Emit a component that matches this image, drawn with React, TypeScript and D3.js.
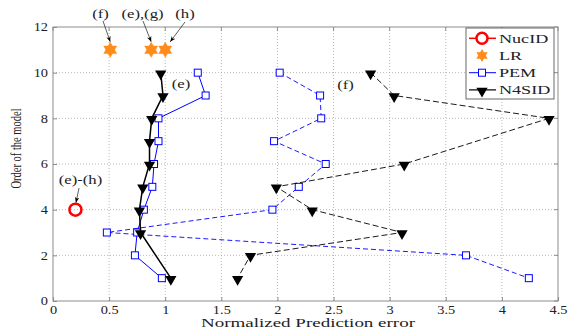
import React, { useEffect, useRef } from 'react'
import * as d3 from 'd3'

// x ticks / y ticks
const xTicks = [0, 0.5, 1, 1.5, 2, 2.5, 3, 3.5, 4, 4.5]
const yTicks = [0, 2, 4, 6, 8, 10, 12]

// NucID single point
const nucidX = [0.2]
const nucidOrder = [4]

// LR stars
const lrX = [0.51, 0.875, 1.0]
const lrOrder = [11, 11, 11]

// PEM, case (e) solid
const pemEOrder = [10, 9, 8, 7, 6, 5, 4, 3, 2, 1]
const pemEErr = [1.29, 1.36, 0.94, 0.94, 0.9, 0.885, 0.81, 0.75, 0.73, 0.97]

// N4SID, case (e) solid
const n4EOrder = [10, 9, 8, 7, 6, 5, 4, 3, 1]
const n4EErr = [0.96, 0.98, 0.88, 0.86, 0.86, 0.8, 0.77, 0.78, 1.05]

// PEM, case (f) dashed
const pemFOrder = [10, 9, 8, 7, 6, 5, 4, 3, 2, 1]
const pemFErr = [2.02, 2.38, 2.39, 1.97, 2.43, 2.19, 1.955, 0.48, 3.68, 4.24]

// N4SID, case (f) dashed
const n4FOrder = [10, 9, 8, 6, 5, 4, 3, 2, 1]
const n4FErr = [2.83, 3.04, 4.42, 3.13, 1.99, 2.31, 3.11, 1.76, 1.645]

const legendNames = ['NucID', 'LR', 'PEM', 'N4SID']

const FONT = "'Liberation Serif', 'Times New Roman', 'DejaVu Serif', serif"
const SX = 1.45 // the source picture is stretched sideways

function App() {
    const ref = useRef<SVGSVGElement>(null)

    useEffect(() => {
        const svg = d3.select(ref.current)
        svg.selectAll('*').remove()
        svg.style('font-family', FONT)

        const m = { l: 53, r: 24, t: 27, b: 31 }
        const W = 582, H = 332
        const x = d3.scaleLinear().domain([0, 4.5]).range([m.l, W - m.r])
        const y = d3.scaleLinear().domain([0, 12]).range([H - m.b, m.t])

        // stretched text helper
        const txt = (parent: any, t: string, tx: number, ty: number, size: number, sx: number, anchor = 'middle') =>
            parent.append('text').attr('transform', `translate(${tx},${ty}) scale(${sx},1)`)
                .attr('text-anchor', anchor).style('font-family', FONT).attr('font-size', size).attr('fill', '#222').text(t)

        const defs = svg.append('defs')
        defs.append('marker').attr('id', 'arr').attr('viewBox', '0 0 10 10')
            .attr('refX', 10).attr('refY', 5).attr('markerWidth', 7).attr('markerHeight', 7)
            .attr('orient', 'auto')
            .append('path').attr('d', 'M0,1 L10,5 L0,9 L3,5 Z').attr('fill', '#000')

        svg.append('rect').attr('width', W).attr('height', H).attr('fill', '#fff')

        // grid
        const grid = svg.append('g')
        grid.selectAll('.gx').data(xTicks.slice(1, -1)).join('line')
            .attr('x1', d => x(d)).attr('x2', d => x(d))
            .attr('y1', y(0)).attr('y2', y(12))
            .attr('stroke', '#9a9a9a').attr('stroke-width', 0.7).attr('stroke-dasharray', '1,2')
        grid.selectAll('.gy').data(yTicks.slice(1, -1)).join('line')
            .attr('y1', d => y(d)).attr('y2', d => y(d))
            .attr('x1', x(0)).attr('x2', x(4.5))
            .attr('stroke', '#9a9a9a').attr('stroke-width', 0.7).attr('stroke-dasharray', '1,2')

        // axes box
        svg.append('rect').attr('x', x(0)).attr('y', y(12))
            .attr('width', x(4.5) - x(0)).attr('height', y(0) - y(12))
            .attr('fill', 'none').attr('stroke', '#8c8c8c').attr('stroke-width', 1)

        const xAxis = d3.axisBottom(x).tickValues(xTicks).tickSize(-4).tickSizeOuter(0).tickFormat(d3.format('~g'))
        const yAxis = d3.axisLeft(y).tickValues(yTicks).tickSize(-4).tickSizeOuter(0)
        const gx = svg.append('g').attr('transform', `translate(0,${y(0)})`).call(xAxis)
        const gy = svg.append('g').attr('transform', `translate(${x(0)},0)`).call(yAxis)
        for (const g of [gx, gy]) {
            g.attr('font-family', null).attr('font-size', null)
            g.select('.domain').remove()
            g.selectAll('line').attr('stroke', '#8c8c8c')
            g.selectAll('text').style('font-family', FONT).attr('font-size', 11.5).attr('fill', '#222')
                .attr('transform', 'scale(1.25,1)')
        }
        gx.selectAll('text').attr('dy', null).attr('y', 13.5)
        gy.selectAll('text').attr('x', -5 / 1.25).attr('dy', '0.34em')
        // right and top ticks
        svg.append('g').selectAll('line').data(yTicks).join('line')
            .attr('x1', x(4.5)).attr('x2', x(4.5) - 4).attr('y1', d => y(d)).attr('y2', d => y(d))
            .attr('stroke', '#8c8c8c')
        svg.append('g').selectAll('line').data(xTicks).join('line')
            .attr('y1', y(12)).attr('y2', y(12) + 4).attr('x1', d => x(d)).attr('x2', d => x(d))
            .attr('stroke', '#8c8c8c')

        svg.append('text').attr('x', 308).attr('y', 327)
            .attr('text-anchor', 'middle').style('font-family', FONT).attr('font-size', 11.5).attr('fill', '#222')
            .attr('textLength', 214).attr('lengthAdjust', 'spacingAndGlyphs')
            .text('Normalized Prediction error')
        svg.append('text').attr('transform', `translate(21,148.5) rotate(-90) scale(1,${SX})`)
            .attr('text-anchor', 'middle').style('font-family', FONT).attr('font-size', 10.5).attr('fill', '#222')
            .text('Order of the model')

        const line = d3.line<[number, number]>().x(d => x(d[0])).y(d => y(d[1]))
        const tri = d3.symbol().type(d3.symbolTriangle).size(55)

        const drawSeries = (errs: number[], orders: number[], color: string, dash: string | null, width: number, kind: string) => {
            const pts = errs.map((e, i) => [e, orders[i]] as [number, number])
            svg.append('path').datum(pts).attr('d', line).attr('fill', 'none')
                .attr('stroke', color).attr('stroke-width', width)
                .attr('stroke-dasharray', dash)
            const g = svg.append('g')
            if (kind === 'sq') {
                g.selectAll('rect').data(pts).join('rect')
                    .attr('x', d => x(d[0]) - 3.5).attr('y', d => y(d[1]) - 3.5)
                    .attr('width', 7).attr('height', 7).attr('fill', '#fff').attr('stroke', color).attr('stroke-width', 1)
            } else {
                g.selectAll('path').data(pts).join('path')
                    .attr('d', tri).attr('transform', d => `translate(${x(d[0])},${y(d[1]) + 1}) rotate(180)`)
                    .attr('fill', '#000')
            }
        }

        drawSeries(pemFErr, pemFOrder, '#0000ff', '5,3', 0.9, 'sq')
        drawSeries(n4FErr, n4FOrder, '#000', '6,3', 0.9, 'tri')
        drawSeries(pemEErr, pemEOrder, '#0000ff', null, 1, 'sq')
        drawSeries(n4EErr, n4EOrder, '#000', null, 1.5, 'tri')

        // NucID
        svg.append('g').selectAll('circle').data(nucidX).join('circle')
            .attr('cx', d => x(d)).attr('cy', (d, i) => y(nucidOrder[i])).attr('r', 6)
            .attr('fill', 'none').attr('stroke', '#ff0000').attr('stroke-width', 2.5)

        // LR stars (six-pointed)
        const hexa = (r: number) => {
            const p1 = d3.range(3).map(k => { const a = -Math.PI / 2 + k * 2 * Math.PI / 3; return [r * Math.cos(a), r * Math.sin(a)] })
            const p2 = d3.range(3).map(k => { const a = Math.PI / 2 + k * 2 * Math.PI / 3; return [r * Math.cos(a), r * Math.sin(a)] })
            return `M${p1.join('L')}Z M${p2.join('L')}Z`
        }
        svg.append('g').selectAll('path').data(lrX).join('path')
            .attr('d', hexa(7.5))
            .attr('transform', (d, i) => `translate(${x(d)},${y(lrOrder[i])})`)
            .attr('fill', '#ff8c1a').attr('stroke', '#ff8c1a').attr('stroke-width', 0.5)

        // annotations
        const arrow = (x1: number, y1: number, x2: number, y2: number) => svg.append('line')
            .attr('x1', x1).attr('y1', y1).attr('x2', x2).attr('y2', y2)
            .attr('stroke', '#333').attr('stroke-width', 0.8).attr('marker-end', 'url(#arr)')

        txt(svg, '(f)', 100.5, 18, 11.5, SX)
        arrow(103, 21, x(lrX[0]), y(11) - 8)
        txt(svg, '(e),(g)', 142.5, 18, 11.5, SX)
        arrow(143, 21, x(lrX[1]), y(11) - 8)
        txt(svg, '(h)', 185, 18, 11.5, SX)
        arrow(185, 22, x(lrX[2]) + 5, y(11) - 8)
        txt(svg, '(e)', 181, 88, 11.5, SX)
        txt(svg, '(f)', 345.5, 89, 11.5, SX)
        txt(svg, '(e)-(h)', 80.5, 184, 11.5, SX)
        arrow(79, 188, x(nucidX[0]) + 0.5, y(nucidOrder[0]) - 7)

        // legend
        const lg = svg.append('g').attr('transform', 'translate(466,28)')
        lg.append('rect').attr('width', 88).attr('height', 71).attr('fill', '#fff').attr('stroke', '#444').attr('stroke-width', 0.8)
        legendNames.forEach((n, i) => {
            const cy = 10.3 + i * 17.2
            const r = lg.append('g').attr('transform', `translate(0,${cy})`)
            if (n === 'NucID') {
                r.append('line').attr('x1', 3).attr('x2', 30).attr('stroke', '#ff0000').attr('stroke-width', 1.5)
                r.append('circle').attr('cx', 16).attr('r', 5.5).attr('fill', '#fff').attr('stroke', '#ff0000').attr('stroke-width', 2.5)
            } else if (n === 'LR') {
                r.append('path').attr('d', hexa(6.5)).attr('transform', 'translate(16,0)').attr('fill', '#ff8c1a')
            } else if (n === 'PEM') {
                r.append('line').attr('x1', 3).attr('x2', 30).attr('stroke', '#0000ff').attr('stroke-width', 1)
                r.append('rect').attr('x', 12.5).attr('y', -3.5).attr('width', 7).attr('height', 7).attr('fill', '#fff').attr('stroke', '#0000ff')
            } else {
                r.append('line').attr('x1', 3).attr('x2', 30).attr('stroke', '#000').attr('stroke-width', 1.2)
                r.append('path').attr('d', tri).attr('transform', 'translate(16,1) rotate(180)').attr('fill', '#000')
            }
            txt(r, n, 33, 4.5, 12.5, SX, 'start')
        })
    }, [])

    return <svg ref={ref} width={582} height={332} style={{ position: 'absolute', left: 0, top: 0, display: 'block' }} />
}

export default App
